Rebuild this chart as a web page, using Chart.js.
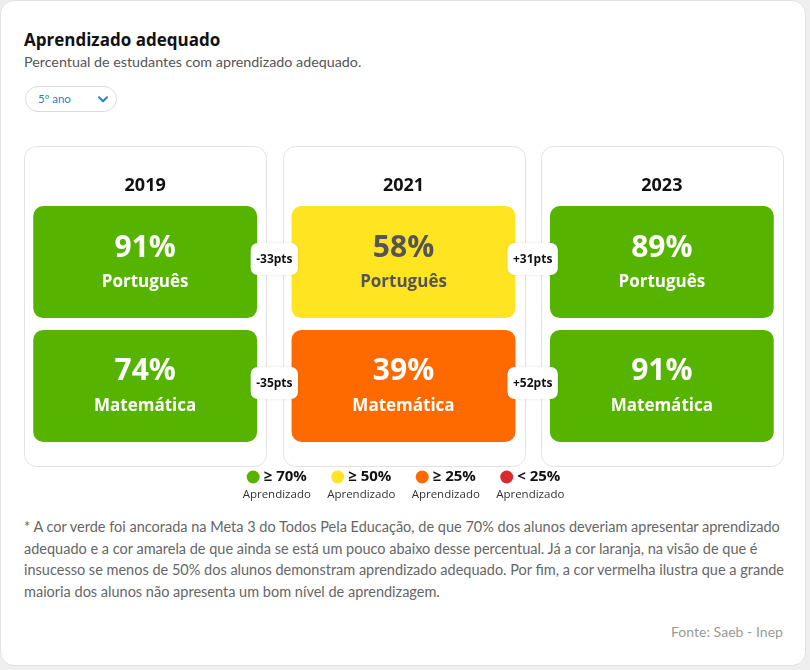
<!DOCTYPE html>
<html lang="pt-BR">
<head>
<meta charset="utf-8">
<title>Aprendizado adequado</title>
<script src="https://cdn.jsdelivr.net/npm/chart.js@4.4.1/dist/chart.umd.min.js"></script>
<style>
  html, body { margin: 0; padding: 0; background: #efefef; }
  body { width: 810px; height: 670px; position: relative; overflow: hidden; font-family: "Lato", sans-serif; }
  .card {
    position: absolute; left: 0; top: 0; width: 804px; height: 664px;
    background: #fff; border: 1px solid #e2e2e2; border-radius: 14px;
  }
  .title { position: absolute; left: 24px; top: 28px; font: bold 17px "Open Sans", sans-serif; color: #111; }
  .subtitle { position: absolute; left: 24px; top: 53px; font-size: 14.3px; color: #555; }
  .select {
    position: absolute; left: 25px; top: 86px; width: 90px; height: 24px;
    border: 1px solid #dcdcdc; border-radius: 13px; box-sizing: content-box;
    font-size: 11.5px; color: #2f7fc9; line-height: 24px;
  }
  .select span { position: absolute; left: 12px; }
  .select svg { position: absolute; right: 8px; top: 9px; }
  #chart { position: absolute; left: 0; top: 140px; }
  .note {
    position: absolute; left: 24px; top: 516px; white-space: nowrap;
    font-size: 14.5px; line-height: 21.7px; color: #666;
  }
  .source { position: absolute; right: 27px; top: 623px; font-size: 14.1px; color: #9a9a9a; }
</style>
</head>
<body>
<div class="card"></div>
<div class="title">Aprendizado adequado</div>
<div class="subtitle">Percentual de estudantes com aprendizado adequado.</div>
<div class="select"><span>5º ano</span>
  <svg width="10" height="7" viewBox="0 0 10 7"><path d="M1 1.2 L5 5.2 L9 1.2" fill="none" stroke="#2f7fc9" stroke-width="2" stroke-linecap="round" stroke-linejoin="round"/></svg>
</div>
<canvas id="chart" width="810" height="370"></canvas>
<div class="note">* A cor verde foi ancorada na Meta 3 do Todos Pela Educação, de que 70% dos alunos deveriam apresentar aprendizado<br>adequado e a cor amarela de que ainda se está um pouco abaixo desse percentual. Já a cor laranja, na visão de que é<br>insucesso se menos de 50% dos alunos demonstram aprendizado adequado. Por fim, a cor vermelha ilustra que a grande<br>maioria dos alunos não apresenta um bom nível de aprendizagem.</div>
<div class="source">Fonte: Saeb - Inep</div>

<script>
const years = ["2019", "2021", "2023"];
const subjects = ["Português", "Matemática"];
const portugues = [91, 58, 89];
const matematica = [74, 39, 91];
const series = [portugues, matematica];

const legendLabels = ["≥ 70%", "≥ 50%", "≥ 25%", "< 25%"];
const thresholds = [70, 50, 25, 0];
const levelColors = ["#56b400", "#ffe422", "#ff6a00", "#d62a2e"];

const colorFor = (v) => levelColors[thresholds.findIndex((t) => v >= t)];
const textFor = (v) => (v >= 50 && v < 70 ? "#555" : "#fff");

// each subject is one row of cells: Português on top, Matemática below
const rowRange = (row) => (row === 0 ? [1.05, 2] : [0, 0.95]);

const tilesPlugin = {
  id: "tiles",
  beforeDatasetsDraw(chart) {
    const { ctx, chartArea, scales } = chart;
    ctx.save();
    chart.data.labels.forEach((year, i) => {
      const cx = scales.x.getPixelForValue(i);
      ctx.beginPath();
      ctx.roundRect(Math.round(cx - 121) + 0.5, chartArea.top - 59.5, 242, chartArea.bottom - chartArea.top + 84, 12);
      ctx.fillStyle = "#fff";
      ctx.fill();
      ctx.strokeStyle = "#e3e3e3";
      ctx.lineWidth = 1;
      ctx.stroke();
      ctx.fillStyle = "#111";
      ctx.font = 'bold 18px "Open Sans"';
      ctx.textAlign = "center";
      ctx.textBaseline = "middle";
      ctx.fillText(year, cx, chartArea.top - 20);
    });
    ctx.restore();
  },
  afterDatasetsDraw(chart) {
    const { ctx, chartArea, scales } = chart;
    ctx.save();
    ctx.textAlign = "center";
    ctx.textBaseline = "middle";

    series.forEach((values, di) => {
      const bars = chart.getDatasetMeta(di).data;
      bars.forEach((bar, i) => {
        const v = values[i];
        const cy = (bar.y + bar.base) / 2;
        ctx.fillStyle = textFor(v);
        ctx.font = 'bold 30px "Open Sans"';
        ctx.fillText(v + "%", bar.x, cy - 14);
        ctx.font = 'bold 17px "Open Sans"';
        ctx.fillText(subjects[di], bar.x, cy + 20);
      });

      // change between consecutive editions
      for (let i = 0; i < bars.length - 1; i++) {
        const delta = values[i + 1] - values[i];
        const label = (delta > 0 ? "+" : "") + delta + "pts";
        const bx = (bars[i].x + bars[i + 1].x) / 2;
        const by = (bars[i].y + bars[i].base) / 2 - 3;
        ctx.font = 'bold 12px "Open Sans"';
        const w = ctx.measureText(label).width + 11;
        ctx.save();
        ctx.shadowColor = "rgba(0,0,0,0.12)";
        ctx.shadowBlur = 3;
        ctx.beginPath();
        ctx.roundRect(bx - w / 2, by - 16, w, 32, 7);
        ctx.fillStyle = "#fff";
        ctx.fill();
        ctx.restore();
        ctx.fillStyle = "#111";
        ctx.fillText(label, bx, by + 1);
      }
    });

    // threshold legend
    const mid = scales.x.getPixelForValue(1);
    legendLabels.forEach((lab, i) => {
      const cx = mid + (i - 1.5) * 84.5;
      const ly = chartArea.bottom + 35;
      ctx.font = 'bold 15px "Open Sans"';
      const w = ctx.measureText(lab).width;
      const start = cx - (w + 17) / 2;
      ctx.beginPath();
      ctx.arc(start + 6.5, ly, 6.5, 0, Math.PI * 2);
      ctx.fillStyle = levelColors[i];
      ctx.fill();
      ctx.fillStyle = "#111";
      ctx.textAlign = "left";
      ctx.fillText(lab, start + 17, ly);
      ctx.textAlign = "center";
      ctx.font = '11.5px "Open Sans"';
      ctx.fillStyle = "#333";
      ctx.fillText("Aprendizado", cx, chartArea.bottom + 53);
    });
    ctx.restore();
  },
};

new Chart(document.getElementById("chart"), {
  type: "bar",
  data: {
    labels: years,
    datasets: series.map((values, row) => ({
      label: subjects[row],
      data: values.map(() => rowRange(row)),
      backgroundColor: values.map(colorFor),
      borderRadius: 10,
      borderSkipped: false,
      grouped: false,
      categoryPercentage: 1,
      barPercentage: 0.8665,
    })),
  },
  options: {
    responsive: false,
    animation: false,
    layout: { padding: { left: 16, right: 19, top: 66, bottom: 68 } },
    scales: {
      x: { display: false },
      y: { display: false, min: 0, max: 2 },
    },
    plugins: {
      legend: { display: false },
      tooltip: { enabled: false },
    },
  },
  plugins: [tilesPlugin],
});
</script>
</body>
</html>
